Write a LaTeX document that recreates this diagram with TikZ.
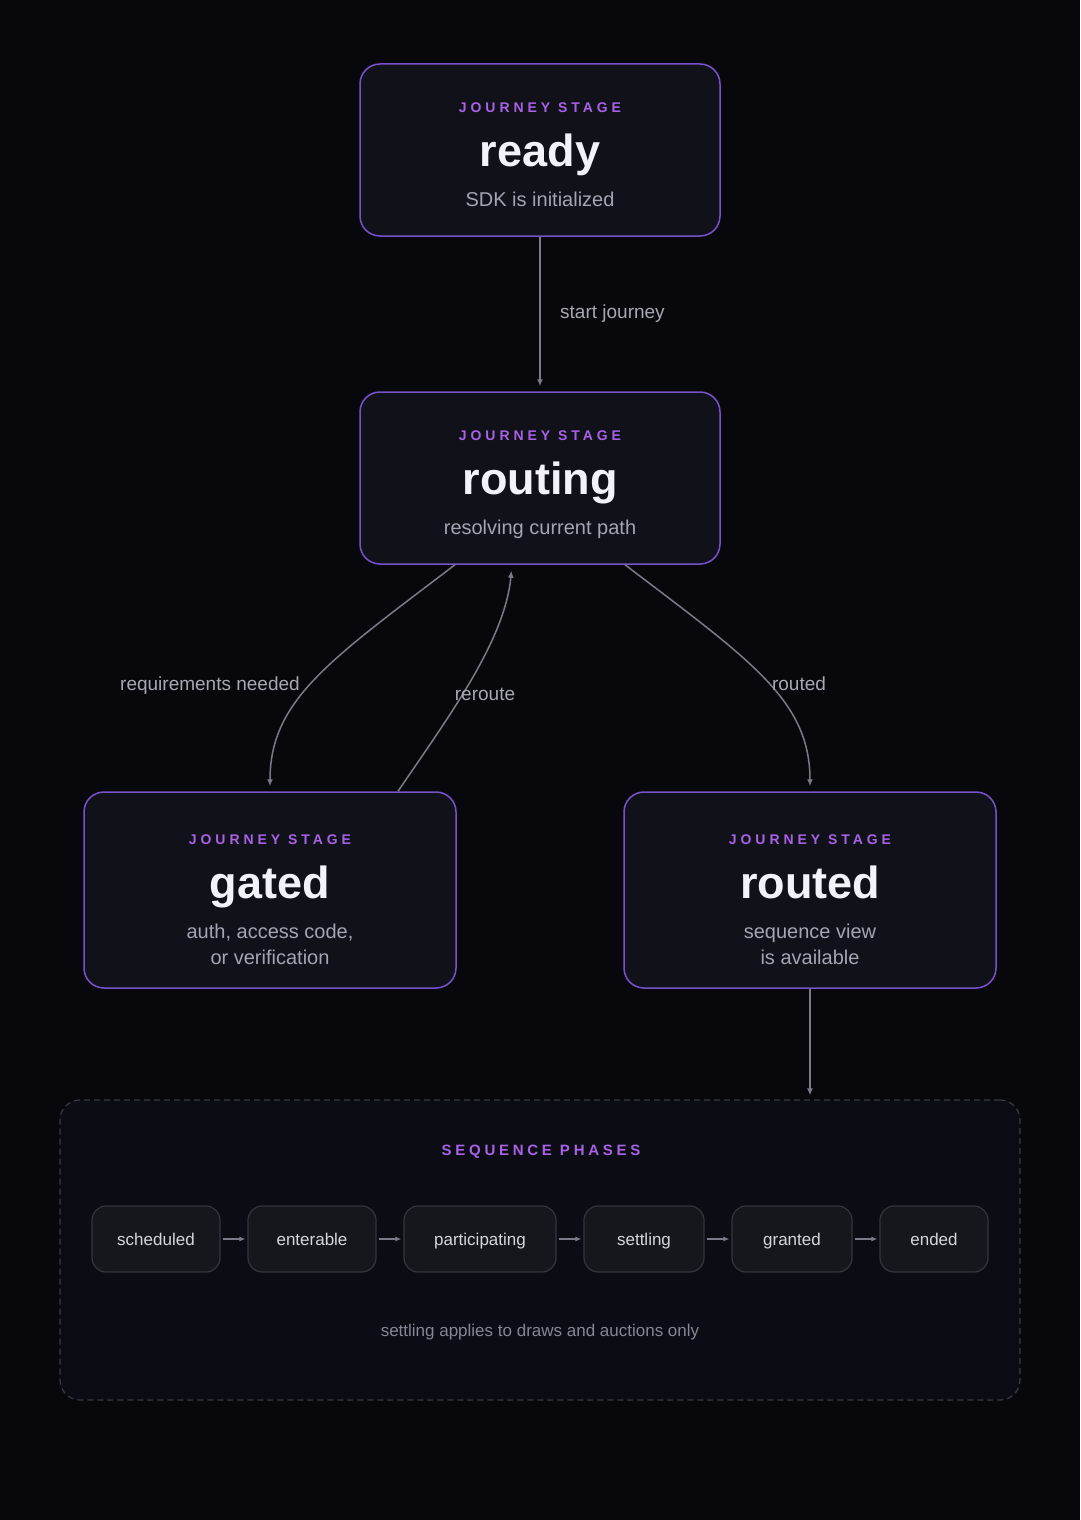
\documentclass[tikz,border=0pt]{standalone}
\usepackage{fontspec}
\setmainfont{Liberation Sans}
\newfontfamily\spacedfont[LetterSpace=28]{Liberation Sans}
\newfontfamily\spacedfontb[LetterSpace=25]{Liberation Sans}
\usetikzlibrary{arrows.meta,calc}
\definecolor{bgc}{HTML}{08080C}
\definecolor{boxfill}{HTML}{11111A}
\definecolor{boxborder}{HTML}{7752CC}
\definecolor{lblpurple}{HTML}{A862E6}
\definecolor{titlec}{HTML}{F2F2F8}
\definecolor{subc}{HTML}{A4A4B2}
\definecolor{edgec}{HTML}{7A7A88}
\definecolor{edgelbl}{HTML}{A8A8B4}
\definecolor{seqfill}{HTML}{0C0C14}
\definecolor{seqborder}{HTML}{3A3A46}
\definecolor{phfill}{HTML}{16161D}
\definecolor{phborder}{HTML}{34343E}
\definecolor{phtext}{HTML}{D6D6DE}
\definecolor{footc}{HTML}{868694}
\newcommand{\twowords}[2]{\mbox{#1}\kern 8pt\mbox{#2}}
\tikzset{
  stagebox/.style={draw=boxborder, fill=boxfill, line width=1.5pt, rounded corners=20pt, inner sep=0pt},
  stagelbl/.style={anchor=base, inner sep=0pt, text=lblpurple, font=\spacedfont\bfseries\fontsize{14}{16}\selectfont},
  stagetitle/.style={anchor=base, inner sep=0pt, text=titlec, font=\bfseries\fontsize{45}{50}\selectfont},
  stagesub/.style={anchor=base, inner sep=0pt, text=subc, font=\fontsize{20}{24}\selectfont},
  edge/.style={draw=edgec, line width=1.5pt, -{Latex[length=7pt,width=6pt]}},
  edgetext/.style={anchor=base, inner sep=0pt, text=edgelbl, font=\fontsize{19}{22}\selectfont},
  phase/.style={draw=phborder, fill=phfill, line width=1.2pt, rounded corners=14pt, minimum height=66pt, inner sep=0pt, text height=12pt, text depth=0pt, text=phtext, font=\fontsize{17}{20}\selectfont},
  pharrow/.style={draw=edgec, line width=1.5pt, -{Latex[length=6pt,width=5pt]}, shorten <=2pt, shorten >=2pt},
}
\begin{document}
\begin{tikzpicture}[x=1pt,y=-1pt]
\fill[bgc] (0,0) rectangle (1080,1520);
\useasboundingbox (0,0) rectangle (1080,1520);

% stage boxes
\node[stagebox, minimum width=360pt, minimum height=172pt] (ready) at (540,150) {};
\node[stagebox, minimum width=360pt, minimum height=172pt] (routing) at (540,478) {};
\node[stagebox, minimum width=372pt, minimum height=196pt] (gated) at (270,890) {};
\node[stagebox, minimum width=372pt, minimum height=196pt] (routed) at (810,890) {};

% texts
\node[stagelbl] (readyL) at (540,112) {\twowords{JOURNEY}{STAGE}};
\node[stagetitle] (readyT) at (540,166) {ready};
\node[stagesub] (readyS) at (540,206) {SDK is initialized};

\node[stagelbl] (routingL) at (540,440) {\twowords{JOURNEY}{STAGE}};
\node[stagetitle] (routingT) at (540,494) {routing};
\node[stagesub] (routingS) at (540,534) {resolving current path};

\node[stagelbl] (gatedL) at (270,844) {\twowords{JOURNEY}{STAGE}};
\node[stagetitle] (gatedT) at (270,898) {gated};
\node[stagesub] (gatedS1) at (270,938) {auth, access code,};
\node[stagesub] (gatedS2) at (270,964) {or verification};

\node[stagelbl] (routedL) at (810,844) {\twowords{JOURNEY}{STAGE}};
\node[stagetitle] (routedT) at (810,898) {routed};
\node[stagesub] (routedS1) at (810,938) {sequence view};
\node[stagesub] (routedS2) at (810,964) {is available};

% sequence container
\node[draw=seqborder, fill=seqfill, line width=1.2pt, dash pattern=on 6pt off 4pt, rounded corners=20pt, minimum width=960pt, minimum height=300pt, inner sep=0pt] (seq) at (540,1250) {};
\node[anchor=base, inner sep=0pt, text=lblpurple, font=\spacedfontb\bfseries\fontsize{15}{18}\selectfont] (seqL) at (541,1155) {\twowords{SEQUENCE}{PHASES}};

\node[phase, minimum width=128pt] (p1) at (156,1239) {scheduled};
\node[phase, minimum width=128pt] (p2) at (312,1239) {enterable};
\node[phase, minimum width=152pt] (p3) at (480,1239) {participating};
\node[phase, minimum width=120pt] (p4) at (644,1239) {settling};
\node[phase, minimum width=120pt] (p5) at (792,1239) {granted};
\node[phase, minimum width=108pt] (p6) at (934,1239) {ended};
\draw[pharrow] (p1) -- (p2);
\draw[pharrow] (p2) -- (p3);
\draw[pharrow] (p3) -- (p4);
\draw[pharrow] (p4) -- (p5);
\draw[pharrow] (p5) -- (p6);

\node[anchor=base, inner sep=0pt, text=footc, font=\fontsize{17}{20}\selectfont] (foot) at (540,1336) {settling applies to draws and auctions only};

% connectors
\draw[edge, shorten >=5pt] (ready.south) -- (routing.north);
\node[edgetext, anchor=base west] (lstart) at (560,318) {start journey};

\draw[edge, shorten >=5pt] ($(routing.south)+(-85,0)$) .. controls (330,660) and (270,700) .. (gated.north);
\node[edgetext] (lreq) at (210,690) {requirements needed};

\draw[edge, shorten >=6pt] ($(gated.north)+(128,0)$) .. controls (450,715) and (505,640) .. ($(routing.south)+(-28,0)$);
\node[edgetext] (lrer) at (485,700) {reroute};

\draw[edge, shorten >=5pt] ($(routing.south)+(85,0)$) .. controls (750,660) and (810,700) .. (routed.north);
\node[edgetext] (lrouted) at (799,690) {routed};

\draw[edge, shorten >=4pt] (routed.south) -- (routed.south |- seq.north);
\end{tikzpicture}
\end{document}
